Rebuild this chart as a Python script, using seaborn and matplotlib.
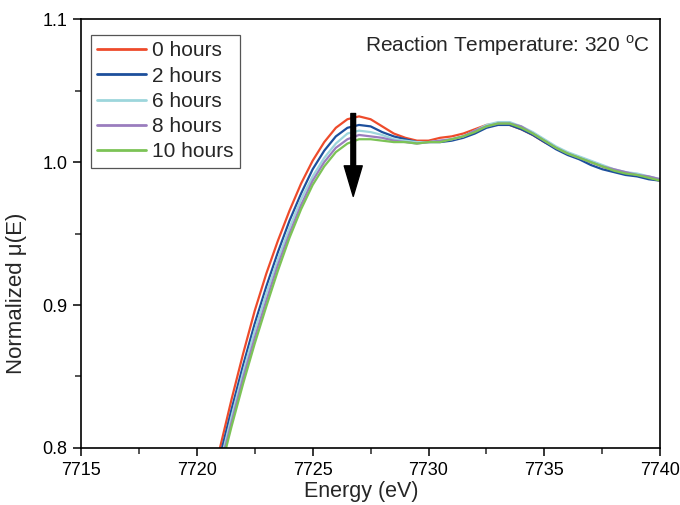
import numpy as np
import pandas as pd
import matplotlib
matplotlib.use("Agg")
import matplotlib.pyplot as plt
import seaborn as sns

# Dane
energy = [7720.5, 7721.0, 7721.5, 7722.0, 7722.5, 7723.0, 7723.5, 7724.0, 7724.5, 7725.0,
          7725.5, 7726.0, 7726.5, 7727.0, 7727.5, 7728.0, 7728.5, 7729.0, 7729.5, 7730.0,
          7730.5, 7731.0, 7731.5, 7732.0, 7732.5, 7733.0, 7733.5, 7734.0, 7734.5, 7735.0,
          7735.5, 7736.0, 7736.5, 7737.0, 7737.5, 7738.0, 7738.5, 7739.0, 7739.5, 7740.0]

mu_0h = [0.766, 0.800, 0.834, 0.866, 0.896, 0.922, 0.945, 0.966, 0.985, 1.001,
         1.014, 1.024, 1.030, 1.032, 1.030, 1.025, 1.020, 1.017, 1.015, 1.015,
         1.017, 1.018, 1.020, 1.023, 1.026, 1.027, 1.026, 1.023, 1.019, 1.014,
         1.010, 1.006, 1.003, 1.000, 0.997, 0.994, 0.992, 0.991, 0.989, 0.987]

mu_2h = [0.760, 0.794, 0.827, 0.858, 0.887, 0.913, 0.937, 0.959, 0.978, 0.995,
         1.008, 1.018, 1.024, 1.026, 1.025, 1.021, 1.018, 1.016, 1.014, 1.014,
         1.014, 1.015, 1.017, 1.020, 1.024, 1.026, 1.026, 1.023, 1.019, 1.014,
         1.009, 1.005, 1.002, 0.998, 0.995, 0.993, 0.991, 0.990, 0.988, 0.987]

mu_6h = [0.755, 0.789, 0.822, 0.853, 0.882, 0.908, 0.932, 0.954, 0.974, 0.990,
         1.003, 1.013, 1.020, 1.022, 1.021, 1.019, 1.016, 1.015, 1.014, 1.014,
         1.015, 1.016, 1.018, 1.022, 1.026, 1.028, 1.028, 1.025, 1.021, 1.016,
         1.011, 1.007, 1.004, 1.001, 0.998, 0.995, 0.993, 0.992, 0.990, 0.988]

mu_8h = [0.752, 0.786, 0.818, 0.849, 0.877, 0.903, 0.928, 0.950, 0.970, 0.987,
         1.000, 1.010, 1.016, 1.019, 1.018, 1.017, 1.015, 1.014, 1.013, 1.014,
         1.015, 1.016, 1.018, 1.022, 1.025, 1.027, 1.027, 1.025, 1.020, 1.015,
         1.010, 1.006, 1.003, 1.000, 0.997, 0.995, 0.993, 0.991, 0.990, 0.988]

mu_10h = [0.749, 0.783, 0.815, 0.845, 0.873, 0.899, 0.924, 0.947, 0.967, 0.984,
          0.997, 1.007, 1.013, 1.016, 1.016, 1.015, 1.014, 1.014, 1.013, 1.014,
          1.014, 1.016, 1.018, 1.021, 1.025, 1.027, 1.027, 1.024, 1.020, 1.015,
          1.010, 1.006, 1.003, 1.000, 0.997, 0.994, 0.992, 0.991, 0.989, 0.987]

labels = ["0 hours", "2 hours", "6 hours", "8 hours", "10 hours"]
colors = ["#EE4B2B", "#1D4F9C", "#9DD6DC", "#9A7DBE", "#7CC356"]

# Strzalka pokazujaca trend
ARROW_X = 7726.75
ARROW_Y = (1.034, 0.976)

# Tabela w formacie dlugim dla seaborn
series = [mu_0h, mu_2h, mu_6h, mu_8h, mu_10h]
df = pd.DataFrame({
    "energy": energy * len(series),
    "mu": sum(series, []),
    "time": sum([[lab] * len(energy) for lab in labels], []),
})

sns.set_style("ticks")
plt.rcParams["font.family"] = ["Liberation Sans", "DejaVu Sans"]
plt.rcParams["mathtext.fontset"] = "custom"
plt.rcParams["mathtext.rm"] = "Liberation Sans"

fig = plt.figure(figsize=(6.8, 5.05), dpi=100)
ax = fig.add_axes([0.119, 0.113, 0.852, 0.849])

sns.lineplot(data=df, x="energy", y="mu", hue="time", hue_order=labels,
             palette=colors, estimator=None, sort=False, linewidth=1.6, ax=ax)

ax.annotate("", xy=(ARROW_X, ARROW_Y[1]), xytext=(ARROW_X, ARROW_Y[0]),
            arrowprops=dict(facecolor="black", edgecolor="black", width=3.4,
                            headwidth=13, headlength=22, shrink=0))

ax.set_xlim(7715, 7740)
ax.set_ylim(0.8, 1.1)
ax.set_xticks([7715, 7720, 7725, 7730, 7735, 7740])
ax.set_xticks([7717.5, 7722.5, 7727.5, 7732.5, 7737.5], minor=True)
ax.set_yticks([0.8, 0.9, 1.0, 1.1])
ax.set_yticks([0.85, 0.95, 1.05], minor=True)
ax.tick_params(which="major", direction="out", length=6, width=1.1, labelsize=13, colors="black")
ax.tick_params(axis="x", which="major", pad=4)
ax.tick_params(which="minor", direction="out", length=4.5, width=1.1)
for sp in ax.spines.values():
    sp.set_linewidth(1.2)
    sp.set_color("black")

ax.set_xlabel("Energy (eV)", fontsize=15.5)
ax.set_ylabel("Normalized μ(E)", fontsize=16)
ax.xaxis.set_label_coords(0.484, -0.078)
ax.yaxis.set_label_coords(-0.093, 0.36)

ax.text(0.983, 0.939, r"Reaction Temperature: 320 $^{\mathrm{o}}$C", transform=ax.transAxes,
        ha="right", va="center", fontsize=15)

leg = ax.legend(loc="upper left", bbox_to_anchor=(0.017, 0.963), borderaxespad=0,
                fontsize=15, handlelength=2.35, handletextpad=0.3, labelspacing=0.3,
                fancybox=False, framealpha=1, edgecolor="#555555", borderpad=0.3)
leg.get_frame().set_linewidth(0.9)
for line in leg.get_lines():
    line.set_linewidth(2)

fig.savefig("out.png", dpi=100)
